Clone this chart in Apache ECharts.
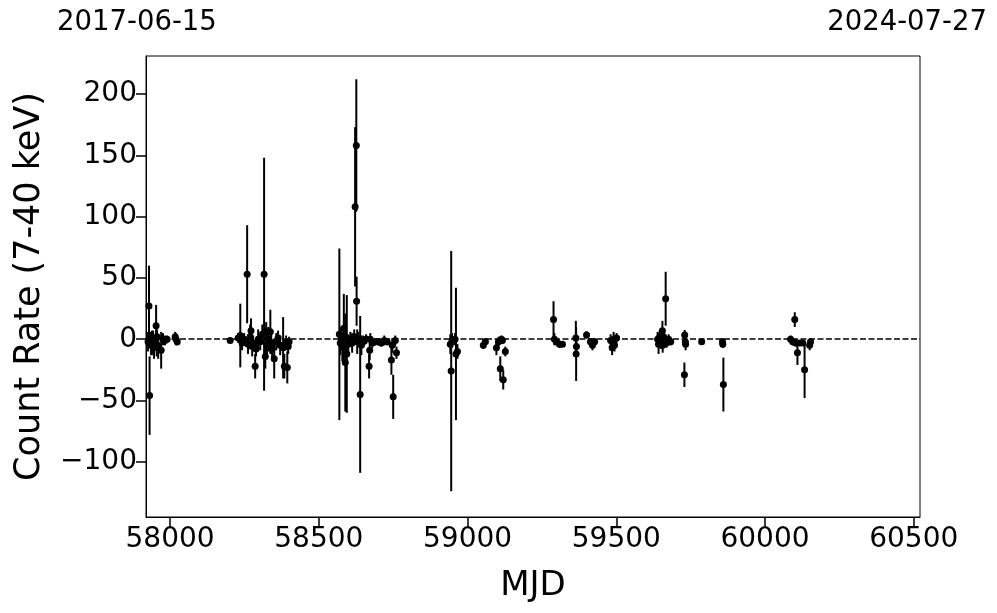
<!DOCTYPE html>
<html>
<head>
<meta charset="utf-8">
<script src="https://cdn.jsdelivr.net/npm/echarts@6/dist/echarts.min.js"></script>
<style>html,body{margin:0;padding:0;background:#fff;}#c{width:997px;height:613px;}</style>
</head>
<body>
<div id="c"></div>
<script>
// MJD of each observation
const mjd = [
 57929,57931,57926,57933,57936,57939,57943,57946,57953,57955,57956,57960,57970,57976,57983,57990,58017,58020,58024,
 58202,58229,58236,58242,58249,58259,58262,58269,58272,58276,58279,58286,58289,58296,58303,58310,58316,58320,58323,58326,58330,58337,58340,58343,58350,58357,58363,58370,58380,58384,58390,58394,58397,58400,
 58569,58572,58575,58579,58584,58589,58594,58599,58606,58612,58619,58622,58626,58627,58629,58633,58639,58643,58649,58659,58669,58671,58673,58680,58690,58700,58710,58720,58730,58744,58747,58750,58757,58761,
 58942,58945,58948,58958,58961,58966,
 59053,59060,59097,59104,59110,59114,59117,59120,59127,
 59289,59292,59299,59309,59319,
 59364,59365,59366,59400,59413,59420,59427,
 59481,59486,59491,59494,59501,
 59639,59642,59646,59649,59655,59656,59659,59666,59669,59676,59683,
 59729,59730,59732,59733,
 59787,
 59857,59858,59860,
 60086,60093,60100,60103,60109,60117,60127,60133,60150,60153
];
// count rate (7-40 keV)
const rate = [
 27,-46,-2,0,-5,-3,1,-7,11,-4,2,-6,-9,0,-1,0,2,0,-2,
 -1,1,3,-3,0,53,-4,2,7,-6,-3,-22,-8,0,-2,4,53,-14,6,-5,0,6,-3,-8,-16,-2,1,-5,-7,-22,-3,-23,-6,-2,
 4,-3,2,-6,9,-19,-12,-4,0,-3,2,108,158,31,-2,0,-45,-5,-2,0,-22,-9,0,-3,-2,-2,-3,-1,-2,-17,-5,-47,-1,-11,
 -4,-26,-1,0,-12,-10,
 -5,-2,-7,-2,-24,0,-1,-33,-10,
 16,0,-2,-4,-4,
 1,-12,-6,3.5,-2,-5,-2,
 -1,-7,0,-5,1,
 0,-4,2,0,7,-5,2,33,-3,0,-2,
 -29,3.5,-2,-4,
 -2,
 -2,-4,-37,
 0,-2,16,-3,-11,-3,-3,-25,-5,-2
];
// 1-sigma error
const err = [
 33,32,8,6,8,10,6,9,17,10,6,10,15,5,4,3,4,5,3,
 2,4,26,6,5,40,8,10,10,8,6,10,6,8,7,8,95,10,8,8,10,18,8,8,16,7,6,8,25,10,6,13,6,4,
 70,10,8,12,28,40,48,8,6,8,6,65,54,20,10,6,64,8,5,4,10,8,5,4,3,3,3,4,3,12,6,18,4,5,
 8,98,6,5,54,6,
 3,3,6,4,10,3,3,8,4,
 15,5,3,3,2,
 14,22,6,3,3,4,3,
 5,6,6,5,4,
 6,8,5,8,8,6,4,22,4,4,3,
 10,4,4,5,
 2,
 3,3,22,
 3,3,6,3,10,2,2,23,4,3
];
const xTicks = [58000,58500,59000,59500,60000,60500];
const yTicks = [-100,-50,0,50,100,150,200];
const dateStart = '2017-06-15', dateEnd = '2024-07-27';

const pts = mjd.map((m,i)=>[m, rate[i]]);
const bars = mjd.map((m,i)=>[m, rate[i]-err[i], rate[i]+err[i]]);
const FONT = 'DejaVu Sans';
const minus = s => String(s).replace('-', '\u2212');

const chart = echarts.init(document.getElementById('c'), null, {renderer:'canvas'});
chart.setOption({
  animation:false,
  backgroundColor:'#fff',
  grid:{left:146,right:77,top:56,bottom:96,show:true,borderColor:'#000',borderWidth:1,backgroundColor:'transparent'},
  xAxis:{
    type:'value', min:57919, max:60521,
    name:'MJD', nameLocation:'middle', nameGap:52,
    nameTextStyle:{fontFamily:FONT,fontSize:34,color:'#000'},
    axisLine:{show:true,onZero:false,lineStyle:{color:'#000',width:1}},
    axisTick:{show:true,length:10,inside:false,lineStyle:{color:'#000',width:1.5},customValues:xTicks},
    axisLabel:{fontFamily:FONT,fontSize:28,color:'#000',margin:9,customValues:xTicks,formatter:v=>String(v)},
    splitLine:{show:false}
  },
  yAxis:{
    type:'value', min:-145, max:231,
    name:'Count Rate (7-40 keV)', nameLocation:'middle', nameGap:99, nameRotate:90,
    nameTextStyle:{fontFamily:FONT,fontSize:35,color:'#000'},
    axisLine:{show:true,onZero:false,lineStyle:{color:'#000',width:1}},
    axisTick:{show:true,length:10,inside:false,lineStyle:{color:'#000',width:1.5},customValues:yTicks},
    axisLabel:{fontFamily:FONT,fontSize:28,color:'#000',margin:9,customValues:yTicks,formatter:v=>minus(v)},
    splitLine:{show:false}
  },
  graphic:[
    {type:'text',left:57,top:9,style:{text:dateStart,fontFamily:FONT,fontSize:27.5,fill:'#000'}},
    {type:'text',right:10,top:9,style:{text:dateEnd,fontFamily:FONT,fontSize:27.5,fill:'#000'}}
  ],
  series:[
    {
      type:'custom', clip:true, z:2,
      renderItem:function(params, api){
        const p1 = api.coord([api.value(0), api.value(1)]);
        const p2 = api.coord([api.value(0), api.value(2)]);
        return {type:'line', shape:{x1:p1[0],y1:p1[1],x2:p2[0],y2:p2[1]}, style:{stroke:'#000',lineWidth:2}};
      },
      encode:{x:0,y:[1,2]},
      data:bars
    },
    {
      type:'scatter', symbolSize:7, z:3,
      itemStyle:{color:'#000',opacity:1},
      data:pts,
      markLine:{
        silent:true, symbol:['none','none'], label:{show:false},
        lineStyle:{color:'#000',type:[6,2.5],width:1.5,opacity:1},
        data:[{yAxis:0}]
      }
    }
  ]
});
</script>
</body>
</html>
